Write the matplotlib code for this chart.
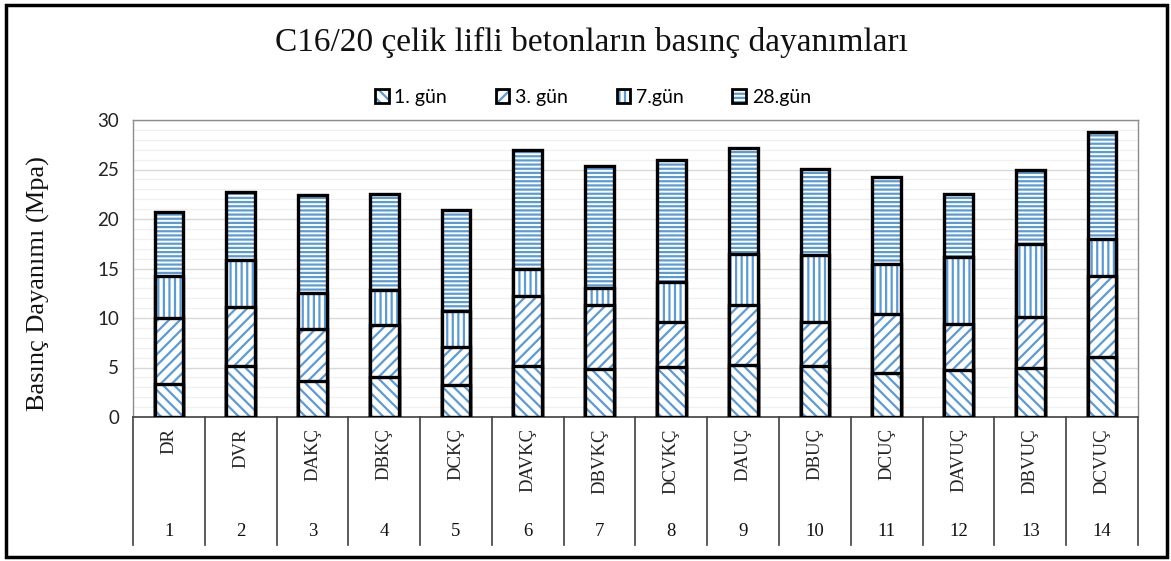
import matplotlib
matplotlib.use("Agg")
import matplotlib.pyplot as plt
from matplotlib.patches import Patch, Rectangle
from matplotlib.legend_handler import HandlerTuple
from matplotlib.lines import Line2D
import numpy as np

# Compressive strength (MPa) of C16/20 steel-fibre concretes
mixes = ["DR", "DVR", "DAKÇ", "DBKÇ", "DCKÇ", "DAVKÇ", "DBVKÇ", "DCVKÇ",
         "DAUÇ", "DBUÇ", "DCUÇ", "DAVUÇ", "DBVUÇ", "DCVUÇ"]
mix_numbers = [str(i) for i in range(1, 15)]
day1 = [3.3, 5.2, 3.6, 4.0, 3.2, 5.2, 4.8, 5.05, 5.3, 5.2, 4.4, 4.7, 4.9, 6.1]
day3 = [10.0, 11.1, 8.9, 9.3, 7.1, 12.2, 11.3, 9.6, 11.3, 9.6, 10.4, 9.4, 10.1, 14.2]
day7 = [14.2, 15.9, 12.5, 12.8, 10.75, 14.9, 13.0, 13.6, 16.5, 16.4, 15.5, 16.2, 17.5, 18.0]
day28 = [20.7, 22.7, 22.4, 22.5, 20.9, 26.96, 25.4, 26.0, 27.2, 25.1, 24.2, 22.5, 25.0, 28.8]
series_names = ["1. gün", "3. gün", "7.gün", "28.gün"]

BLUE = "#5B9BD5"
plt.rcParams["hatch.linewidth"] = 1.6
serif = ["Liberation Serif", "DejaVu Serif"]
sans = ["Lato", "DejaVu Sans"]

W, H = 1171, 561
fig = plt.figure(figsize=(W / 100, H / 100), dpi=100)
ax = fig.add_axes([133 / W, 1 - 417 / H, (1138 - 133) / W, (417 - 120) / H])

x = np.arange(len(mixes))
width = 0.4
hatches = ["\\\\\\", "///", "|||", "----"]
series = [day1, day3, day7, day28]

# Later ages drawn first; earlier ages overlap them from the base
for z, idx in enumerate([3, 2, 1, 0]):
    vals = series[idx]
    ax.bar(x, vals, width, facecolor="white", edgecolor=BLUE, linewidth=0,
           hatch=hatches[idx], zorder=3 + 2 * z)
    ax.bar(x, vals, width, fill=False, edgecolor="black", linewidth=2.4,
           zorder=4 + 2 * z)

ax.set_xlim(-0.5, len(mixes) - 0.5)
ax.set_ylim(0, 30)
ax.set_yticks(np.arange(0, 31, 5))
ax.set_yticks(np.arange(0, 31, 1), minor=True)
ax.grid(axis="y", which="minor", color="#F0F0F0", linewidth=0.9, zorder=0)
ax.grid(axis="y", which="major", color="#D9D9D9", linewidth=1.0, zorder=1)
ax.tick_params(axis="y", which="both", length=0, pad=10, labelsize=13.5)
for lab in ax.get_yticklabels():
    lab.set_fontfamily(sans)
    lab.set_color("#222222")
ax.set_xticks([])

for side in ["left", "right", "top"]:
    ax.spines[side].set_color("#8C8C8C")
    ax.spines[side].set_linewidth(1.0)
ax.spines["bottom"].set_color("#404040")
ax.spines["bottom"].set_linewidth(1.2)

ax.set_ylabel("Basınç Dayanımı (Mpa)", fontsize=19, family=serif, color="#111111")
ax.yaxis.set_label_coords(-(133 - 50) / 1005, (417 - 284) / 297)

# Category table under the axis: rotated mix names, mix numbers, dividers
trans = ax.get_xaxis_transform()
px = 1 / 297
for i, (name, num) in enumerate(zip(mixes, mix_numbers)):
    ax.text(i, -11 * px, name, transform=trans, rotation=90, ha="center", va="top",
            fontsize=13.5, family=serif, color="#222222", clip_on=False)
    ax.text(i, -115 * px, num, transform=trans, ha="center", va="center",
            fontsize=13.5, family=serif, color="#111111", clip_on=False)
for b in np.arange(-0.5, len(mixes), 1.0):
    ax.add_line(Line2D([b, b], [0, -128 * px], transform=trans, color="#404040",
                       linewidth=1.2, clip_on=False))

# Title and legend
fig.text(591 / W, 1 - 42 / H, "C16/20 çelik lifli betonların basınç dayanımları",
         ha="center", va="center", fontsize=24, family=serif, color="#111111")

handles = []
for h in hatches:
    handles.append((Patch(facecolor="white", edgecolor=BLUE, linewidth=0, hatch=h),
                    Patch(fill=False, edgecolor="black", linewidth=2.0)))
fig.legend(handles, series_names, loc="center", bbox_to_anchor=(593 / W, 1 - 97 / H),
           ncol=4, frameon=False,
           handler_map={tuple: HandlerTuple(ndivide=1, pad=0)},
           prop={"family": sans, "size": 14}, handlelength=0.7, handleheight=0.7,
           handletextpad=0.3, columnspacing=2.5)

# Outer frame
fig.add_artist(Rectangle((6 / W, 4 / H), (1167 - 6) / W, (556 - 4) / H,
                         transform=fig.transFigure, fill=False, edgecolor="black",
                         linewidth=2.5))

fig.savefig("out.png", dpi=100, facecolor="white")
